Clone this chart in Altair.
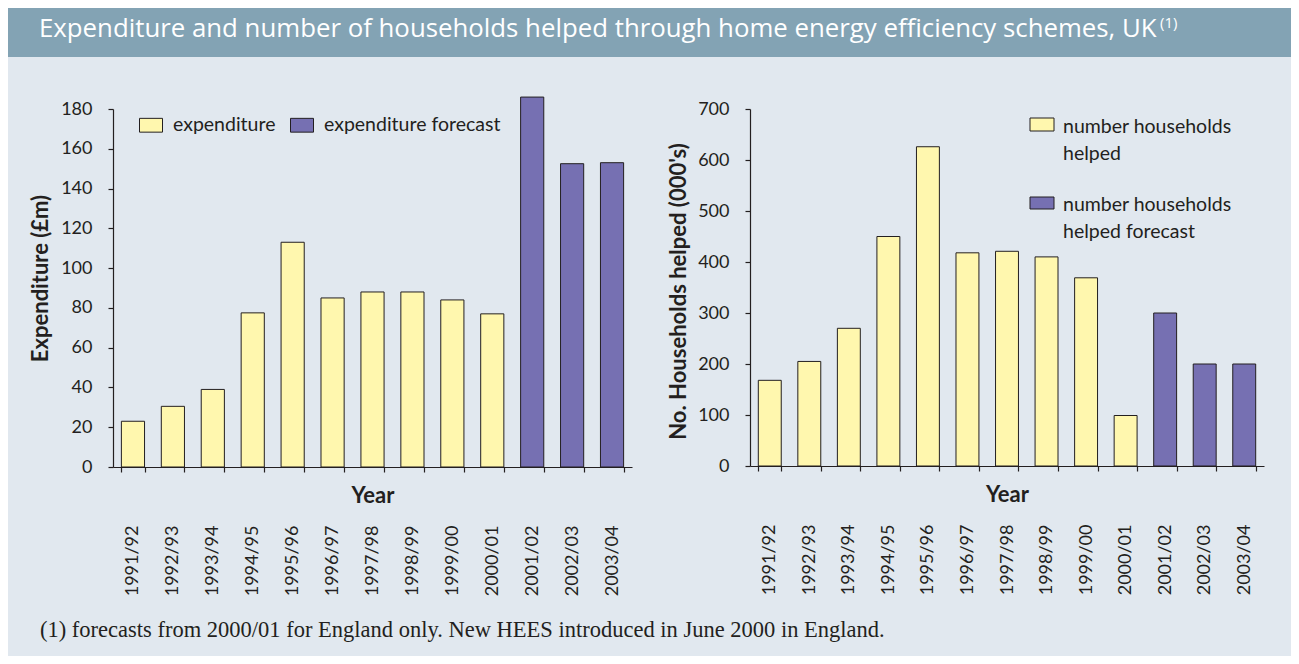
import altair as alt
import pandas as pd

# ---------------- data ----------------
years = ["1991/92", "1992/93", "1993/94", "1994/95", "1995/96", "1996/97", "1997/98",
         "1998/99", "1999/00", "2000/01", "2001/02", "2002/03", "2003/04"]
expenditure = [23, 30.5, 39, 77.5, 113, 85, 88, 88, 84, 77, 186, 152.5, 153]
households = [168, 205, 270, 450, 626, 418, 421, 410, 369, 99, 300, 200, 200]
forecast = [False, False, False, False, False, False, False, False, False, False, True, True, True]

exp_series = ["expenditure", "expenditure forecast"]
hh_series = ["number households helped", "number households helped forecast"]
hh_legend_lines = [["number households", "helped"], ["number households", "helped forecast"]]

exp_ticks = [0, 20, 40, 60, 80, 100, 120, 140, 160, 180]
hh_ticks = [0, 100, 200, 300, 400, 500, 600, 700]

title_text = "Expenditure and number of households helped through home energy efficiency schemes, UK"
title_sup = "(1)"
footnote = "(1) forecasts from 2000/01 for England only. New HEES introduced in June 2000 in England."

# ---------------- style ----------------
FONT = "Lato"
INK = "#231F20"
BG = "#E1E8EF"
BANNER = "#83A3B4"
YELLOW = "#FFF7AE"
PURPLE = "#7670B2"

left_df = pd.DataFrame({
    "year": years,
    "value": expenditure,
    "series": [exp_series[1] if f else exp_series[0] for f in forecast],
})
right_df = pd.DataFrame({
    "year": years,
    "value": households,
    "series": [hh_series[1] if f else hh_series[0] for f in forecast],
})
one = pd.DataFrame({"k": [0]})

LW, LH = 519, 358
RW, RH = 514, 357


def x_enc():
    return alt.X(
        "year:N", sort=years,
        scale=alt.Scale(paddingInner=0.42, paddingOuter=0.21),
        axis=alt.Axis(title="Year", labelAngle=-90, labelPadding=53, tickBand="extent",
                      tickSize=5, titleY=35, titleBaseline="alphabetic", titleFontSize=22),
    )


# ---------- left panel ----------
# invisible frame that fixes the overall extent of the picture
frame = alt.Chart(one).mark_rect(opacity=0).encode(
    x=alt.value(-105), x2=alt.value(1178), y=alt.value(-101), y2=alt.value(547))
banner = alt.Chart(one).mark_rect(color=BANNER).encode(
    x=alt.value(-105), x2=alt.value(1178), y=alt.value(-101), y2=alt.value(-52))
title_mark = alt.Chart(one).mark_text(
    align="left", baseline="alphabetic", font="Open Sans", fontSize=25.8, color="white"
).encode(x=alt.value(-74), y=alt.value(-72), text=alt.value(title_text))
sup_mark = alt.Chart(one).mark_text(
    align="left", baseline="alphabetic", font="Open Sans", fontSize=15, color="white"
).encode(x=alt.value(1047), y=alt.value(-81), text=alt.value(title_sup))
foot_mark = alt.Chart(one).mark_text(
    align="left", baseline="alphabetic", font="Liberation Serif", fontSize=22.5, color=INK
).encode(x=alt.value(-73), y=alt.value(528), text=alt.value(footnote))

left_bars = alt.Chart(left_df).mark_bar(stroke=INK, strokeWidth=1).encode(
    x=x_enc(),
    y=alt.Y("value:Q", scale=alt.Scale(domain=[0, 180], nice=False),
            axis=alt.Axis(title="Expenditure (£m)", values=exp_ticks, tickSize=5, labelPadding=16,
                          titleX=-73, titleY=169, titleBaseline="middle", titleFontSize=22)),
    color=alt.Color("series:N", scale=alt.Scale(domain=exp_series, range=[YELLOW, PURPLE]),
                    legend=alt.Legend(title=None, orient="none", legendX=26, legendY=4,
                                      direction="horizontal",
                                      symbolType="M-1,-0.6H1V0.6H-1Z", symbolSize=529,
                                      symbolStrokeColor=INK, symbolStrokeWidth=1,
                                      symbolOpacity=1, labelLimit=400,
                                      labelFont=FONT, labelFontSize=19.5, labelColor=INK,
                                      labelOffset=10, columnPadding=12, padding=0)),
)

left = alt.layer(frame, banner, title_mark, sup_mark, foot_mark, left_bars).properties(width=LW, height=LH)

# ---------- right panel ----------
right_bars = alt.Chart(right_df).mark_bar(stroke=INK, strokeWidth=1).encode(
    x=x_enc(),
    y=alt.Y("value:Q", scale=alt.Scale(domain=[0, 700], nice=False),
            axis=alt.Axis(title="No. Households helped (000's)", values=hh_ticks, tickSize=5,
                          labelPadding=16, titleX=-72, titleY=182, titleBaseline="middle",
                          titleFontSize=22)),
    color=alt.Color("series:N", scale=alt.Scale(domain=hh_series, range=[YELLOW, PURPLE]), legend=None),
)


def legend_box(fill, y0, y1):
    return alt.Chart(one).mark_rect(fill=fill, stroke=INK, strokeWidth=1).encode(
        x=alt.value(280), x2=alt.value(304), y=alt.value(y0), y2=alt.value(y1))


def legend_text(lines, yb):
    return alt.Chart(one).mark_text(
        align="left", baseline="alphabetic", font=FONT, fontSize=19.5, color=INK, lineHeight=27
    ).encode(x=alt.value(313), y=alt.value(yb), text=alt.value(lines))


right = alt.layer(
    right_bars,
    legend_box(YELLOW, 9, 22), legend_text(hh_legend_lines[0], 24),
    legend_box(PURPLE, 88, 100), legend_text(hh_legend_lines[1], 102),
).properties(width=RW, height=RH)

chart = alt.hconcat(left, right, spacing=118, bounds="flush", padding=0).resolve_scale(
    color="independent", x="independent", y="independent"
).configure(
    background=BG,
).configure_view(
    stroke=None,
).configure_axis(
    labelFont=FONT, labelFontSize=18, labelColor=INK,
    titleFont=FONT, titleFontWeight="bold", titleColor=INK,
    domainColor=INK, tickColor=INK, domainWidth=1.2, tickWidth=1.2,
    grid=False,
)

chart.save("out.html", embed_options={"renderer": "svg", "actions": False})
